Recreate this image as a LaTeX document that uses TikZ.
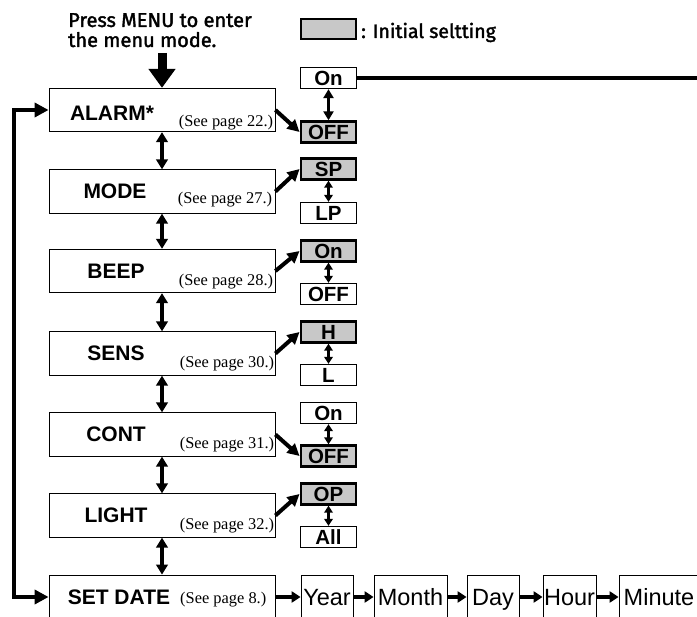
\documentclass[tikz,border=0pt]{standalone}
\usepackage{fontspec}
\setmainfont{Liberation Sans}
\newfontfamily\serifref{Liberation Serif}
\newfontfamily\menufont{Fira Sans}[FakeBold=1.8]
\usetikzlibrary{arrows.meta}
\definecolor{initgray}{RGB}{200,200,200}
\tikzset{
  mainbox/.style={draw, line width=0.8pt, minimum width=226pt, minimum height=43.5pt, inner sep=0pt},
  mainlbl/.style={font=\fontsize{21}{21}\selectfont\bfseries, inner sep=0pt, text height=15pt, text depth=0pt},
  pageref/.style={font=\serifref\fontsize{16.4}{16.4}\selectfont, inner sep=0pt, anchor=base west},
  optw/.style={draw, line width=1.3pt, minimum width=55.5pt, minimum height=21pt, inner sep=0pt,
    font=\fontsize{20.5}{20.5}\selectfont\bfseries, text height=14.5pt, text depth=0pt},
  optg/.style={optw, fill=initgray, line width=2.4pt},
  datebox/.style={draw, line width=0.8pt, minimum height=44pt, inner sep=0pt,
    font=\fontsize{23.5}{23.5}\selectfont, text height=16.8pt, text depth=0pt},
  menutxt/.style={font=\menufont\fontsize{20}{20}\selectfont, inner sep=0pt, anchor=base west},
  vdbl/.style={line width=3.6pt, {Triangle[length=10pt,width=11.5pt]}-{Triangle[length=10pt,width=11.5pt]}},
  odbl/.style={line width=3pt, {Triangle[length=7pt,width=8.5pt]}-{Triangle[length=7pt,width=8.5pt]}},
  adbl/.style={line width=3.3pt, {Triangle[length=9pt,width=10pt]}-{Triangle[length=9pt,width=10pt]}},
  diag/.style={line width=4pt, -{Triangle[length=12pt,width=12pt]}},
  harr/.style={line width=4pt, -{Triangle[length=9pt,width=11pt]}},
  looparr/.style={line width=4.5pt, line join=miter, {Triangle[length=14pt,width=14pt]}-{Triangle[length=14pt,width=14pt]}},
  bigdown/.style={line width=9pt, -{Triangle[length=19pt,width=26pt]}},
}
\begin{document}
\begin{tikzpicture}[x=1pt,y=-1pt]
\useasboundingbox (0,0) rectangle (697,617);
\clip (0,0) rectangle (697,617);

% header text and legend
\node[menutxt] (press1) at (68,27) {Press MENU to enter};
\node[menutxt] (press2) at (68,47) {the menu mode.};
\node[optg, minimum height=20pt] (legend) at (328.5,29) {};
\node[menutxt, font=\menufont\fontsize{19.5}{19.5}\selectfont] (legendtxt) at (361,38) {: Initial seltting};

% main boxes
\node[mainbox] (alarm) at (162,110) {};
\node[mainbox] (mode)  at (162,191.5) {};
\node[mainbox] (beep)  at (162,271) {};
\node[mainbox] (sens)  at (162,353.5) {};
\node[mainbox] (cont)  at (162,434.5) {};
\node[mainbox] (light) at (162,515.5) {};
\node[mainbox, minimum height=44pt] (setdate) at (162,597) {};

\node[mainlbl] (alarmlbl) at ([shift={(-50,3)}]alarm.center) {ALARM*};
\node[mainlbl] (modelbl)  at ([xshift=-47pt]mode.center) {MODE};
\node[mainlbl] (beeplbl)  at ([xshift=-46pt]beep.center) {BEEP};
\node[mainlbl] (senslbl)  at ([xshift=-46pt]sens.center) {SENS};
\node[mainlbl] (contlbl)  at ([xshift=-46pt]cont.center) {CONT};
\node[mainlbl] (lightlbl) at ([xshift=-46pt]light.center) {LIGHT};
\node[mainlbl, anchor=west] (datelbl) at ([xshift=19pt]setdate.west) {SET DATE};

\node[pageref] (alarmref) at ([shift={(130,-6)}]alarm.south west) {(See page 22.)};
\node[pageref] (moderef)  at ([shift={(129,-10)}]mode.south west) {(See page 27.)};
\node[pageref] (beepref)  at ([shift={(130,-8)}]beep.south west) {(See page 28.)};
\node[pageref] (sensref)  at ([shift={(131,-8)}]sens.south west) {(See page 30.)};
\node[pageref] (contref)  at ([shift={(131,-8)}]cont.south west) {(See page 31.)};
\node[pageref] (lightref) at ([shift={(131,-8)}]light.south west) {(See page 32.)};
\node[pageref] (dateref)  at (180,604) {(See page 8.)};

% options
\node[optw] (alarmon)  at (328.5,78) {On};
\node[optg] (alarmoff) at (328.5,132) {OFF};
\node[optg] (sp)       at (328.5,169) {SP};
\node[optw] (lp)       at (328.5,213) {LP};
\node[optg] (beepon)   at (328.5,251) {On};
\node[optw] (beepoff)  at (328.5,294) {OFF};
\node[optg] (sh)       at (328.5,332) {H};
\node[optw] (sl)       at (328.5,375) {L};
\node[optw] (conton)   at (328.5,413) {On};
\node[optg] (contoff)  at (328.5,456) {OFF};
\node[optg] (op)       at (328.5,494) {OP};
\node[optw] (all)      at (328.5,537) {All};

% date row
\node[datebox, minimum width=52pt] (year)   at (327,597) {Year};
\node[datebox, minimum width=73pt] (month)  at (410.5,597) {Month};
\node[datebox, minimum width=52pt] (day)    at (493,597) {Day};
\node[datebox, minimum width=53pt] (hour)   at (569.5,597) {Hour};
\node[datebox, minimum width=80pt] (minute) at (659,597) {Minute};

% connectors
\coordinate (menutop) at (162,53);
\draw[bigdown] (menutop) -- (alarm.north);

\draw[vdbl] (alarm.south) -- (mode.north);
\draw[vdbl] (mode.south) -- (beep.north);
\draw[vdbl] (beep.south) -- (sens.north);
\draw[vdbl] (sens.south) -- (cont.north);
\draw[vdbl] (cont.south) -- (light.north);
\draw[vdbl] (light.south) -- (setdate.north);

\draw[adbl] (alarmon.south) -- (alarmoff.north);
\draw[odbl] (sp.south) -- (lp.north);
\draw[odbl] (beepon.south) -- (beepoff.north);
\draw[odbl] (sh.south) -- (sl.north);
\draw[odbl] (conton.south) -- (contoff.north);
\draw[odbl] (op.south) -- (all.north);

\draw[diag] (alarm.east) -- (alarmoff.west);
\draw[diag] (mode.east) -- (sp.west);
\draw[diag] (beep.east) -- (beepon.west);
\draw[diag] (sens.east) -- (sh.west);
\draw[diag] (cont.east) -- (contoff.west);
\draw[diag] (light.east) -- (op.west);

\coordinate (rightend) at (700,78);
\draw[line width=4pt] (alarmon.east) -- (alarmon.east -| rightend);

\coordinate (loopx) at (14,0);
\draw[looparr] (alarm.west) -- (alarm.west -| loopx) -- (setdate.west -| loopx) -- (setdate.west);

\draw[harr] (setdate.east) -- (year.west);
\draw[harr] (year.east) -- (month.west);
\draw[harr] (month.east) -- (day.west);
\draw[harr] (day.east) -- (hour.west);
\draw[harr] (hour.east) -- (minute.west);
\end{tikzpicture}
\end{document}
